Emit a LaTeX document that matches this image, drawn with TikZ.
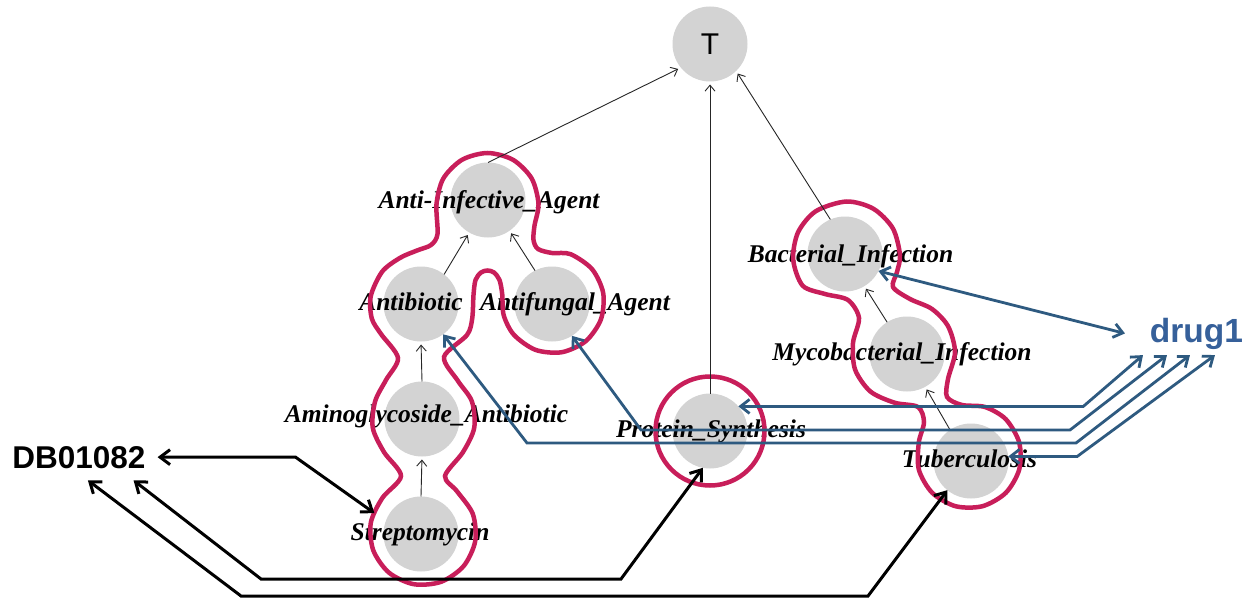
\documentclass[tikz,border=0pt]{standalone}
\usepackage{fontspec}
\setmainfont{Liberation Serif}
\newfontfamily\arialfont{Liberation Sans}
\usetikzlibrary{arrows.meta}
\definecolor{redl}{HTML}{C81E5A}
\definecolor{grayc}{HTML}{D3D3D3}
\definecolor{bluel}{HTML}{2E5A80}
\definecolor{bluet}{HTML}{36609A}
\tikzset{
  gnode/.style={circle, fill=grayc, minimum size=75pt, inner sep=0pt, outer sep=0pt},
  lab/.style={anchor=base, inner sep=0pt, font=\fontsize{25.5}{30}\selectfont\bfseries\itshape},
  blob/.style={draw=redl, line width=4.5pt},
  thinarr/.style={draw=black!85, line width=0.9pt, -{Straight Barb[length=6pt,width=10pt]}, shorten >=3pt},
  bluec/.style={draw=bluel, line width=2.8pt, {Straight Barb[length=9pt,width=14pt]}-{Straight Barb[length=9pt,width=14pt]}},
  blackc/.style={draw=black, line width=3pt, {Straight Barb[length=10pt,width=15pt]}-{Straight Barb[length=10pt,width=15pt]}},
}
\begin{document}
\begin{tikzpicture}[x=1pt,y=-1pt]
\useasboundingbox (0,0) rectangle (1258,599);
\fill[white] (0,0) rectangle (1258,599);
% gray nodes
\node[gnode, font=\arialfont\fontsize{30}{30}\selectfont] (T) at (710,44) {T};
\node[gnode] (anti) at (488,200) {};
\node[gnode] (abio) at (421,304) {};
\node[gnode] (afun) at (552,304) {};
\node[gnode] (amino) at (422,419) {};
\node[gnode] (strep) at (421,534) {};
\node[gnode] (prot) at (710,431) {};
\node[gnode] (bact) at (845,254) {};
\node[gnode] (myco) at (907,354) {};
\node[gnode] (tub) at (971,461) {};
% labels
\node[lab] (lanti) at (489,208) {Anti-Infective\_Agent};
\node[lab] (labio) at (411,310) {Antibiotic};
\node[lab] (lafun) at (575,310) {Antifungal\_Agent};
\node[lab] (lamino) at (426.5,422) {Aminoglycoside\_Antibiotic};
\node[lab] (lstrep) at (420,540) {Streptomycin};
\node[lab] (lprot) at (711,437) {Protein\_Synthesis};
\node[lab] (lbact) at (850.5,262) {Bacterial\_Infection};
\node[lab] (lmyco) at (902,360) {Mycobacterial\_Infection};
\node[lab] (ltub) at (969.5,467) {Tuberculosis};
% outside texts
\node[anchor=base, inner sep=0pt, outer sep=12pt, font=\arialfont\bfseries\fontsize{31.5}{34}\selectfont] (db) at (79,468) {DB01082};
\node[anchor=base, inner sep=0pt, outer sep=6pt, text=bluet, font=\arialfont\bfseries\fontsize{33.5}{36}\selectfont] (drug) at (1196.5,342) {drug1};
% red outlines
\draw[blob] plot[smooth cycle, tension=0.5] coordinates {
 (487.5,153) (513,159.8) (531.7,178.5) (538.5,204) (534.5,225.6) (533.5,240)
 (538,249) (552,253) (570.4,254.1) (592.1,269.2) (603.2,293.1) (600.9,319.4)
 (585.8,341.1) (561.9,352.2) (535.6,349.9) (513.9,334.8) (503.7,315.2) (502.2,294)
 (499.5,280) (494,272.5) (487.5,270.5) (481,272.5) (475.5,280) (473.5,295)
 (472.2,318.5) (467,335) (444,357) (458,381)
 (471.9,401.4) (474.2,427.9) (463,452.1) (445,476) (457.1,491.4)
 (472.8,513.9) (475.2,541.2) (463.6,566.1) (441.1,581.8) (413.8,584.2) (388.9,572.6)
 (373.2,550.1) (370.8,522.8) (382.4,497.9) (401,476)
 (384,452.1) (372.8,427.9) (375.1,401.4) (386,380) (398,358)
 (381,334) (371.8,318.5) (370.8,296) (382.2,271.6) (400,257.9) (417,250.5)
 (431,245) (437.5,234) (436.5,204) (443.3,178.5) (462,159.8)};
\draw[blob] plot[smooth cycle, tension=0.5] coordinates {
 (846.5,201.5) (873.3,208.7) (892.8,228.3) (900,255) (897,272) (893,287)
 (910,299) (932,309) (948.1,326.3) (955,352) (948,379) (947,397)
 (962,405) (985,407) (1005.8,419.2) (1019.2,442.5) (1019.2,469.5) (1005.8,492.8)
 (982.5,506.2) (955.5,506.2) (932.2,492.8) (918.8,469.5) (918.8,442.5) (924,422)
 (918,407) (894.6,402.7) (870.4,391.5) (855.1,369.6) (853,343) (859,318)
 (848,300) (825,294) (802.7,285.7) (793.2,259.7) (798,232.4) (815.8,211.2)};
\draw[blob] (prot) circle (54.5pt);
% hierarchy arrows
\draw[thinarr] (anti.90) -- (T.219);
\draw[thinarr] (prot.north) -- (T.south);
\draw[thinarr] (bact.113) -- (T.314);
\draw[thinarr] (abio.52) -- (anti.240);
\draw[thinarr] (afun.117) -- (anti.305);
\draw[thinarr] (amino.north) -- (abio.south);
\draw[thinarr] (strep.north) -- (amino.south);
\draw[thinarr] (myco.122) -- (bact.301);
\draw[thinarr] (tub.124) -- (myco.299);
% blue connectors
\draw[bluec] (bact.333) -- ([xshift=-19pt]drug.west);
\draw[bluec] (prot.41) -- ++(345,0) -- ([xshift=-1pt]drug.south west);
\draw[bluec] (afun.302) -- (641,430) -- (1070,430) -- ([xshift=23pt]drug.south west);
\draw[bluec] (abio.306) -- (527,443) -- (1076,443) -- ([xshift=46pt]drug.south west);
\draw[bluec] (tub.7) -- ++(69,0) -- ([xshift=71pt]drug.south west);
% black connectors
\draw[blackc, shorten >=14pt] (db.east) -- ++(138,0) -- (strep.160);
\draw[blackc] (db.-23) -- (261,579) -- (621,579) -- (prot.259);
\draw[blackc] (db.-69) -- (241,596) -- (868,596) -- (tub.231);
\end{tikzpicture}
\end{document}
